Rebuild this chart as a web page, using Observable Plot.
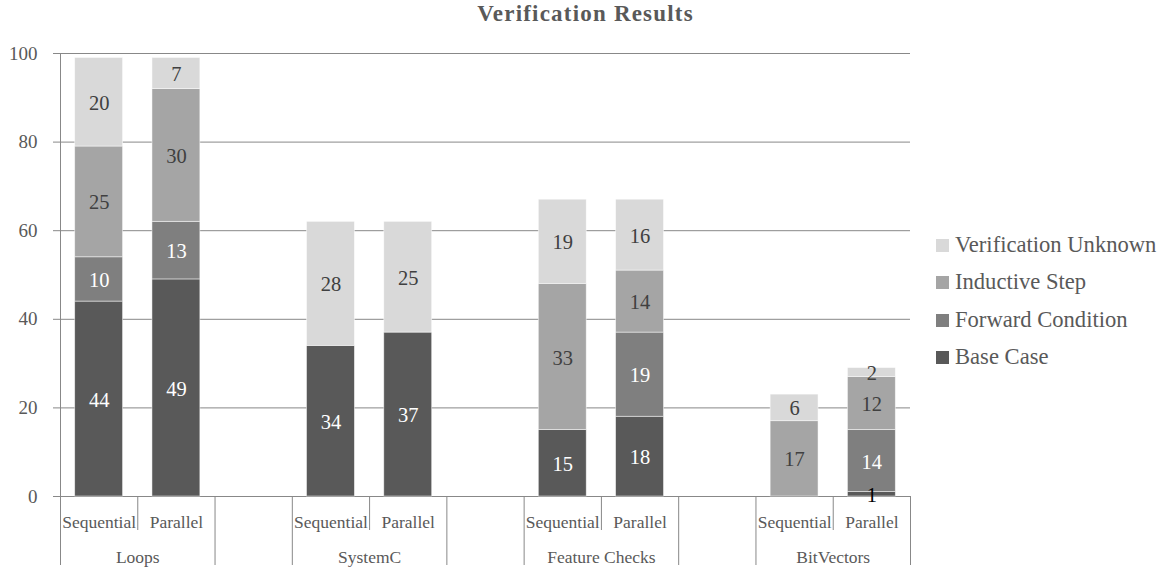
<!DOCTYPE html>
<html>
<head>
<meta charset="utf-8">
<script src="https://cdn.jsdelivr.net/npm/d3@7"></script>
<script src="https://cdn.jsdelivr.net/npm/@observablehq/plot@0.6"></script>
<style>
  body { margin: 0; background: #fff; }
  #wrap { position: relative; width: 1171px; height: 569px; overflow: hidden; font-family: "Liberation Serif", serif; }
  #chart { position: absolute; left: 0; top: 0; }
  #title { position: absolute; left: 0; top: 2px; width: 1171px; text-align: center; font-weight: bold;
           font-size: 23px; line-height: 1; color: #595959; letter-spacing: 1.2px; }
  #legend { position: absolute; left: 936px; top: 226px; font-size: 22.6px; line-height: 37.3px; color: #595959; white-space: nowrap; }
  #legend .sw { display: inline-block; width: 13px; height: 13px; margin-right: 6px; }
</style>
</head>
<body>
<div id="wrap">
  <div id="chart"></div>
  <div id="title">Verification Results</div>
  <div id="legend"></div>
</div>
<script>
// ---- data ----
const groups = ["Loops", "SystemC", "Feature Checks", "BitVectors"];
const modes = ["Sequential", "Parallel"];
const seriesNames = ["Base Case", "Forward Condition", "Inductive Step", "Verification Unknown"];
// bars in order: Loops Seq, Loops Par, SystemC Seq, SystemC Par, FC Seq, FC Par, BV Seq, BV Par
const baseCase            = [44, 49, 34, 37, 15, 18, 0, 1];
const forwardCondition    = [10, 13, 0, 0, 0, 19, 0, 14];
const inductiveStep       = [25, 30, 0, 0, 33, 14, 17, 12];
const verificationUnknown = [20, 7, 28, 25, 19, 16, 6, 2];
const yTicks = [0, 20, 40, 60, 80, 100];
const seriesColors = ["#595959", "#7f7f7f", "#a5a5a5", "#d9d9d9"];

// ---- build tables ----
const seriesValues = [baseCase, forwardCondition, inductiveStep, verificationUnknown];
const slotsPerGroup = modes.length + 1; // one empty slot between groups
const bars = [];
groups.forEach((g, gi) => modes.forEach((m, mi) => {
  bars.push({group: g, mode: m, pos: gi * slotsPerGroup + mi});
}));
const rows = [];
bars.forEach((b, bi) => seriesNames.forEach((s, si) => {
  const v = seriesValues[si][bi];
  if (v > 0) rows.push({pos: b.pos, series: s, value: v});
}));
const groupLabels = groups.map((g, gi) => ({group: g, pos: gi * slotsPerGroup + (modes.length - 1) / 2}));
const longBounds = [];
groups.forEach((g, gi) => {
  longBounds.push(gi * slotsPerGroup - 0.5, gi * slotsPerGroup + modes.length - 0.5);
});
const shortBounds = groups.map((g, gi) => gi * slotsPerGroup + 0.5);

const halfW = 0.31;
const gridColor = "#888888";
const textColor = "#595959";
const darkSeries = new Set(["Base Case", "Forward Condition"]);
const tone = d => d.value < 2 ? "black" : darkSeries.has(d.series) ? "white" : "#404040";
const tones = ["white", "#404040", "black"];

const xMax = (groups.length - 1) * slotsPerGroup + modes.length - 0.5;

const plot = Plot.plot({
  width: 1171,
  height: 569,
  marginTop: 53,
  marginBottom: 73,
  marginLeft: 60,
  marginRight: 261,
  style: {fontFamily: '"Liberation Serif", serif', background: "transparent"},
  x: {type: "linear", domain: [-0.5, xMax], axis: null},
  y: {domain: [0, 100]},
  color: {domain: seriesNames, range: seriesColors},
  marks: [
    Plot.ruleY(yTicks, {stroke: gridColor, insetLeft: -7}),
    Plot.rectY(rows, Plot.stackY({
      x1: d => d.pos - halfW, x2: d => d.pos + halfW,
      y: "value", z: "series", fill: "series", order: seriesNames,
      stroke: "white", strokeWidth: 0.8, strokeOpacity: 0.6
    })),
    ...tones.map(t => Plot.text(rows, Plot.stackY({
      x: "pos", y: "value", z: "series", order: seriesNames,
      text: d => tone(d) === t ? String(d.value) : null,
      fill: t, fontSize: 20.5, lineAnchor: "middle", dy: 1
    }))),
    Plot.ruleX([-0.5], {stroke: gridColor}),
    Plot.ruleX(longBounds, {x: d => d, y1: 0, y2: 0, insetBottom: -69, stroke: gridColor}),
    Plot.ruleX(shortBounds, {x: d => d, y1: 0, y2: 0, insetBottom: -34, stroke: gridColor}),
    Plot.axisY({ticks: yTicks, tickSize: 0, tickPadding: 23, fontSize: 19, fill: textColor, label: null}),
    Plot.text(bars, {x: "pos", text: "mode", frameAnchor: "bottom", dy: 31, lineAnchor: "bottom", fontSize: 17.5, fill: textColor}),
    Plot.text(groupLabels, {x: "pos", text: "group", frameAnchor: "bottom", dy: 66, lineAnchor: "bottom", fontSize: 17.5, fill: textColor})
  ]
});
document.getElementById("chart").appendChild(plot);

// legend (top to bottom: reverse stacking order)
const legend = document.getElementById("legend");
seriesNames.slice().reverse().forEach(s => {
  const row = document.createElement("div");
  const sw = document.createElement("span");
  sw.className = "sw";
  sw.style.background = seriesColors[seriesNames.indexOf(s)];
  row.appendChild(sw);
  row.appendChild(document.createTextNode(s));
  legend.appendChild(row);
});
</script>
</body>
</html>
